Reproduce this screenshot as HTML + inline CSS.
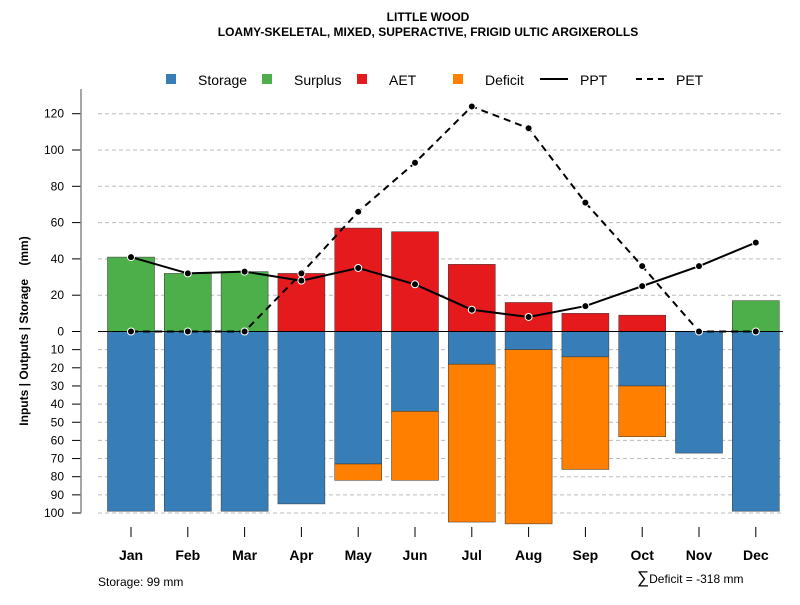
<!DOCTYPE html>
<html><head><meta charset="utf-8"><style>
body{margin:0;background:#fff;font-family:"Liberation Sans",Arial,sans-serif}
svg text{font-family:"Liberation Sans",Arial,sans-serif}
</style></head><body>
<svg id="c" width="800" height="600" xmlns="http://www.w3.org/2000/svg">
<text x="428" y="21" text-anchor="middle" font-size="12" font-weight="bold">LITTLE WOOD</text>
<text x="428" y="36" text-anchor="middle" font-size="12" font-weight="bold">LOAMY-SKELETAL, MIXED, SUPERACTIVE, FRIGID ULTIC ARGIXEROLLS</text>
<g>
<rect x="166" y="74" width="10" height="10" fill="#377EB8"/>
<text x="198" y="85" font-size="14">Storage</text>
<rect x="262" y="74" width="10" height="10" fill="#4DAF4A"/>
<text x="294" y="85" font-size="14">Surplus</text>
<rect x="357" y="74" width="10" height="10" fill="#E41A1C"/>
<text x="389" y="85" font-size="14">AET</text>
<rect x="453" y="74" width="10" height="10" fill="#FF7F00"/>
<text x="485" y="85" font-size="14">Deficit</text>
<line x1="540" y1="79" x2="568" y2="79" stroke="#000" stroke-width="2"/>
<text x="580" y="85" font-size="14">PPT</text>
<line x1="636" y1="79" x2="664" y2="79" stroke="#000" stroke-width="2" stroke-dasharray="6,5"/>
<text x="676" y="85" font-size="14">PET</text>
</g>
<text transform="translate(28,331) rotate(-90)" text-anchor="middle" font-size="12" font-weight="bold">Inputs | Outputs | Storage&#160;&#160;&#160;&#160;(mm)</text>
<text x="98" y="586" font-size="12">Storage: 99 mm</text>
<text x="637" y="583" font-size="12"><tspan font-size="17">∑</tspan>Deficit = -318 mm</text>
<g id="plot"></g>
</svg>
<script>
const months=["Jan","Feb","Mar","Apr","May","Jun","Jul","Aug","Sep","Oct","Nov","Dec"];
const surplus=[41,32,33,0,0,0,0,0,0,0,0,17];
const aet=[0,0,0,32,57,55,37,16,10,9,0,0];
const storage=[99,99,99,95,73,44,18,10,14,30,67,99];
const deficit=[0,0,0,0,9,38,87,96,62,28,0,0];
const ppt=[41,32,33,28,35,26,12,8,14,25,36,49];
const pet=[0,0,0,32,66,93,124,112,71,36,0,0];
const posTicks=[0,20,40,60,80,100,120];
const negTicks=[10,20,30,40,50,60,70,80,90,100];
const NS="http://www.w3.org/2000/svg";
const g=document.getElementById('plot');
const y0=331.5,k=1.815;
const y=v=>y0-v*k;
const x=i=>131+i*56.8;
const bw=47;
function el(t,a){const e=document.createElementNS(NS,t);for(const n in a)e.setAttribute(n,a[n]);g.appendChild(e);return e;}
posTicks.forEach(t=>{
 if(t>0){const l=el('line',{x1:98,x2:783,y1:y(t),y2:y(t),stroke:'#bbb','stroke-dasharray':'4,3'});
 
 }
 const tk=el('line',{x1:72,x2:81,y1:y(t),y2:y(t),stroke:'#000'});
 
 
 const tx=el('text',{x:64,y:y(t)+4,'text-anchor':'end','font-size':12});tx.textContent=t;
 
 
});
negTicks.forEach(t=>{
 const l=el('line',{x1:98,x2:783,y1:y(-t),y2:y(-t),stroke:'#bbb','stroke-dasharray':'4,3'});
 
 
 const tk=el('line',{x1:72,x2:81,y1:y(-t),y2:y(-t),stroke:'#000'});
 
 
 const tx=el('text',{x:64,y:y(-t)+4,'text-anchor':'end','font-size':12});tx.textContent=t;
 
 
});
const ax=el('line',{x1:81,x2:81,y1:89,y2:513,stroke:'#888','stroke-width':1.5});


function bar(i,top,bot,fill,name){
 const r=el('rect',{x:x(i)-bw/2,y:Math.min(y(top),y(bot)),width:bw,height:Math.abs(y(top)-y(bot)),fill:fill,stroke:'#333','stroke-width':0.5});
 
 
}
months.forEach((m,i)=>{
 if(surplus[i]>0)bar(i,surplus[i],0,'#4DAF4A','surplus-bar');
 if(aet[i]>0)bar(i,aet[i],0,'#E41A1C','aet-bar');
 if(storage[i]>0)bar(i,0,-storage[i],'#377EB8','storage-bar');
 if(deficit[i]>0)bar(i,-storage[i],-storage[i]-deficit[i],'#FF7F00','deficit-bar');
 const tk=el('line',{x1:x(i),x2:x(i),y1:527,y2:537,stroke:'#000'});
 
 
 const t=el('text',{x:x(i),y:560,'text-anchor':'middle','font-size':14,'font-weight':'bold'});t.textContent=m;
 
 
});
const zl=el('line',{x1:98,x2:783,y1:y0,y2:y0,stroke:'#000'});


function series(arr,dash,name){
 const p=el('polyline',{points:arr.map((v,i)=>x(i)+','+y(v)).join(' '),fill:'none',stroke:'#000','stroke-width':2,'stroke-dasharray':dash});
 
 
 arr.forEach((v,i)=>{const c=el('circle',{cx:x(i),cy:y(v),r:3.5,fill:'#000',stroke:'#fff','stroke-width':1});
 
 });
}
series(pet,'7,5','pet');
series(ppt,'none','ppt');
</script>
</body></html>
